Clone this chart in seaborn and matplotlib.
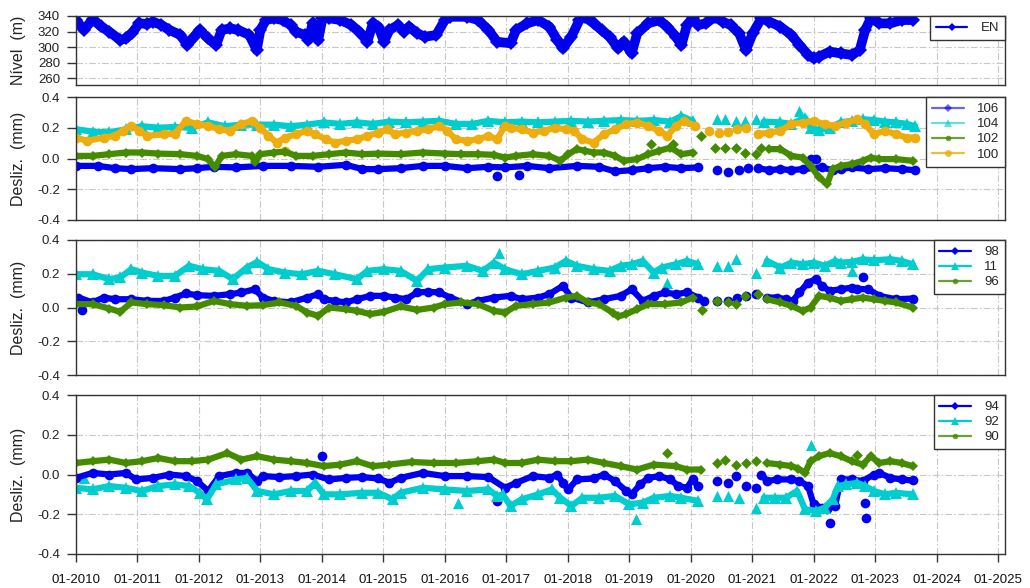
import numpy as np
import matplotlib
matplotlib.use("Agg")
import matplotlib.pyplot as plt
from matplotlib.lines import Line2D
import seaborn as sns

# ---------------- data (decimal years) ----------------
EN_t = [2010.00, 2010.13, 2010.27, 2010.40, 2010.54, 2010.72, 2010.81, 2010.91, 2011.03, 2011.16,
        2011.25, 2011.39, 2011.52, 2011.70, 2011.81, 2011.90, 2012.01, 2012.15, 2012.28, 2012.37,
        2012.51, 2012.64, 2012.82, 2012.94, 2013.00, 2013.09, 2013.22, 2013.36, 2013.49, 2013.58,
        2013.72, 2013.78, 2013.85, 2013.94, 2014.01, 2014.12, 2014.30, 2014.48, 2014.61, 2014.74,
        2014.83, 2014.92, 2015.01, 2015.10, 2015.24, 2015.33, 2015.42, 2015.55, 2015.68, 2015.86,
        2016.00, 2016.09, 2016.36, 2016.54, 2016.71, 2016.85, 2017.07, 2017.16, 2017.34, 2017.52,
        2017.70, 2017.83, 2017.92, 2018.06, 2018.19, 2018.28, 2018.42, 2018.55, 2018.68, 2018.82,
        2018.91, 2019.04, 2019.13, 2019.31, 2019.49, 2019.62, 2019.76, 2019.85, 2019.94, 2020.03,
        2020.12, 2020.25, 2020.39, 2020.52, 2020.65, 2020.79, 2020.90, 2021.01, 2021.15, 2021.28,
        2021.46, 2021.64, 2021.77, 2021.91, 2022.00, 2022.09, 2022.26, 2022.44, 2022.62, 2022.75,
        2022.84, 2022.93, 2023.07, 2023.25, 2023.43, 2023.61]
EN_v = [334.8, 322.0, 335.7, 327.0, 319.8, 309.0, 311.0, 318.0, 330.5, 329.7,
        332.7, 328.4, 322.0, 315.5, 302.6, 311.0, 322.0, 311.0, 302.6, 322.0,
        324.0, 322.0, 315.5, 296.0, 322.0, 334.8, 337.0, 334.8, 328.4, 319.8,
        315.5, 309.0, 330.5, 309.0, 337.0, 337.0, 334.8, 328.4, 319.8, 306.9,
        330.5, 326.2, 306.9, 322.0, 328.4, 319.8, 326.2, 317.6, 313.3, 315.5,
        334.8, 339.0, 339.0, 334.8, 322.0, 306.9, 304.7, 322.0, 330.5, 334.8,
        326.2, 309.0, 298.3, 313.3, 334.8, 339.0, 330.5, 322.0, 313.3, 298.3,
        306.9, 291.8, 317.6, 330.5, 334.8, 326.2, 313.3, 302.6, 328.4, 337.0,
        328.4, 330.5, 339.0, 332.7, 328.4, 317.6, 296.0, 317.6, 337.0, 332.7,
        326.2, 315.5, 302.6, 289.7, 285.4, 287.5, 294.0, 291.8, 289.7, 296.0,
        322.0, 337.0, 330.5, 330.5, 334.8, 334.8]

# Panel 2 --- sensor 106
s106_t = [2010.00, 2010.36, 2010.63, 2010.90, 2011.25, 2011.70, 2011.97, 2012.24, 2012.60, 2013.04,
          2013.49, 2013.94, 2014.39, 2014.66, 2014.92, 2015.28, 2015.64, 2016.00, 2016.36, 2016.71,
          2016.98, 2017.34, 2017.70, 2018.15, 2018.51, 2018.77, 2019.04, 2019.31, 2019.58, 2019.85,
          2020.12, 2021.10, 2021.28, 2021.46, 2021.64, 2021.82, 2022.13, 2022.31, 2022.44, 2022.62,
          2022.89, 2023.16, 2023.43, 2023.65]
s106_v = [-0.048, -0.048, -0.063, -0.069, -0.063, -0.069, -0.063, -0.054, -0.058, -0.048,
          -0.048, -0.054, -0.041, -0.069, -0.069, -0.063, -0.048, -0.048, -0.063, -0.054,
          -0.058, -0.048, -0.063, -0.048, -0.054, -0.084, -0.076, -0.063, -0.054, -0.063,
          -0.058, -0.063, -0.076, -0.069, -0.076, -0.069, -0.058, -0.076, -0.069, -0.058,
          -0.069, -0.063, -0.069, -0.076]
s106_pt_t = [2016.85, 2017.21, 2020.43, 2020.61, 2020.79, 2020.94, 2021.95, 2022.04]
s106_pt_v = [-0.113, -0.106, -0.076, -0.091, -0.076, -0.063, -0.004, -0.004]

# Panel 2 --- sensor 104
s104_t = [2010.00, 2010.27, 2010.54, 2010.81, 2011.07, 2011.34, 2011.61, 2011.88, 2012.15, 2012.42,
          2012.69, 2012.95, 2013.22, 2013.49, 2013.76, 2014.03, 2014.30, 2014.57, 2014.83, 2015.10,
          2015.37, 2015.64, 2015.91, 2016.18, 2016.45, 2016.71, 2016.98, 2017.25, 2017.52, 2017.79,
          2018.06, 2018.33, 2018.59, 2018.86, 2019.13, 2019.40, 2019.67, 2019.85, 2020.03, 2021.19,
          2021.46, 2021.64, 2021.86, 2021.95, 2022.09, 2022.26, 2022.44, 2022.62, 2022.80, 2022.98,
          2023.16, 2023.34, 2023.52, 2023.65]
s104_v = [0.190, 0.175, 0.170, 0.190, 0.210, 0.200, 0.205, 0.200, 0.235, 0.210,
          0.220, 0.220, 0.220, 0.210, 0.220, 0.235, 0.225, 0.235, 0.225, 0.240,
          0.235, 0.240, 0.245, 0.225, 0.225, 0.245, 0.235, 0.240, 0.235, 0.240,
          0.245, 0.240, 0.245, 0.250, 0.245, 0.250, 0.240, 0.275, 0.245, 0.240,
          0.235, 0.225, 0.265, 0.200, 0.185, 0.200, 0.235, 0.245, 0.255, 0.250,
          0.240, 0.235, 0.225, 0.210]
s104_pt_t = [2020.43, 2020.56, 2020.74, 2020.88, 2021.06, 2021.77]
s104_pt_v = [0.255, 0.255, 0.245, 0.245, 0.255, 0.310]

# Panel 2 --- sensor 102
s102_t = [2010.00, 2010.27, 2010.54, 2010.81, 2011.07, 2011.34, 2011.70, 2011.97, 2012.15, 2012.26,
          2012.37, 2012.60, 2012.86, 2012.91, 2013.00, 2013.22, 2013.40, 2013.58, 2013.85, 2014.12,
          2014.39, 2014.66, 2014.92, 2015.28, 2015.64, 2016.00, 2016.27, 2016.54, 2016.80, 2016.98,
          2017.16, 2017.43, 2017.70, 2017.88, 2018.01, 2018.15, 2018.28, 2018.42, 2018.59, 2018.77,
          2018.91, 2019.13, 2019.31, 2019.49, 2019.67, 2019.85, 2020.03, 2021.28, 2021.46, 2021.64,
          2021.82, 2021.95, 2022.09, 2022.22, 2022.31, 2022.44, 2022.62, 2022.80, 2022.93, 2023.07,
          2023.34, 2023.61]
s102_v = [0.017, 0.017, 0.028, 0.039, 0.039, 0.032, 0.028, 0.017, -0.004, -0.058,
          0.017, 0.028, 0.017, -0.026, 0.028, 0.039, 0.045, 0.017, 0.017, 0.028,
          0.039, 0.028, 0.032, 0.028, 0.039, 0.032, 0.028, 0.028, 0.024, 0.006,
          0.017, 0.028, 0.017, -0.015, 0.028, 0.061, 0.050, 0.039, 0.039, 0.017,
          -0.015, -0.004, 0.028, 0.050, 0.071, 0.028, 0.039, 0.061, 0.061, 0.017,
          0.006, -0.048, -0.123, -0.167, -0.069, -0.048, -0.037, -0.015, 0.006, -0.004,
          -0.004, -0.015]
s102_pt_t = [2019.06, 2019.36, 2019.71, 2020.16, 2020.39, 2020.56, 2020.74, 2020.88, 2021.06, 2021.15]
s102_pt_v = [-0.069, 0.093, 0.093, 0.147, 0.071, 0.071, 0.071, 0.039, 0.028, 0.071]

# Panel 2 --- sensor 100
s100_t = [2010.00, 2010.18, 2010.45, 2010.63, 2010.76, 2010.90, 2011.03, 2011.16, 2011.43, 2011.61,
          2011.79, 2011.97, 2012.15, 2012.33, 2012.51, 2012.69, 2012.86, 2013.00, 2013.13, 2013.27,
          2013.40, 2013.58, 2013.76, 2013.89, 2014.07, 2014.21, 2014.39, 2014.57, 2014.74, 2014.92,
          2015.06, 2015.19, 2015.37, 2015.55, 2015.73, 2015.91, 2016.04, 2016.18, 2016.36, 2016.54,
          2016.71, 2016.85, 2016.98, 2017.07, 2017.25, 2017.43, 2017.61, 2017.79, 2017.97, 2018.10,
          2018.24, 2018.42, 2018.59, 2018.77, 2018.95, 2019.13, 2019.31, 2019.49, 2019.62, 2019.76,
          2019.89, 2020.07, 2021.10, 2021.28, 2021.46, 2021.64, 2021.82, 2022.00, 2022.18, 2022.35,
          2022.53, 2022.71, 2022.84, 2022.98, 2023.16, 2023.34, 2023.52, 2023.65]
s100_v = [0.136, 0.115, 0.136, 0.147, 0.180, 0.212, 0.180, 0.147, 0.158, 0.162,
          0.245, 0.223, 0.212, 0.190, 0.180, 0.223, 0.245, 0.200, 0.147, 0.104,
          0.136, 0.158, 0.180, 0.158, 0.125, 0.104, 0.115, 0.125, 0.147, 0.169,
          0.190, 0.158, 0.169, 0.180, 0.190, 0.212, 0.180, 0.125, 0.115, 0.125,
          0.147, 0.125, 0.212, 0.200, 0.190, 0.169, 0.180, 0.200, 0.190, 0.180,
          0.125, 0.104, 0.158, 0.190, 0.223, 0.234, 0.212, 0.180, 0.147, 0.212,
          0.245, 0.212, 0.158, 0.169, 0.180, 0.223, 0.234, 0.245, 0.223, 0.212,
          0.234, 0.255, 0.223, 0.158, 0.180, 0.158, 0.136, 0.136]
s100_pt_t = [2013.40, 2020.30, 2020.46, 2020.61, 2020.76, 2020.90]
s100_pt_v = [0.050, 0.180, 0.169, 0.175, 0.190, 0.200]

# Panel 3 --- sensor 98
s98_t = [2010.04, 2010.27, 2010.45, 2010.63, 2010.90, 2011.16, 2011.43, 2011.61, 2011.79, 2011.97,
         2012.24, 2012.51, 2012.69, 2012.91, 2013.04, 2013.22, 2013.49, 2013.76, 2013.94, 2014.03,
         2014.21, 2014.39, 2014.57, 2014.79, 2015.01, 2015.19, 2015.37, 2015.55, 2015.73, 2015.91,
         2016.09, 2016.36, 2016.54, 2016.80, 2017.07, 2017.25, 2017.52, 2017.70, 2017.92, 2018.06,
         2018.33, 2018.59, 2018.86, 2019.04, 2019.22, 2019.40, 2019.58, 2019.76, 2019.94, 2020.12,
         2020.21, 2021.24, 2021.41, 2021.55, 2021.66, 2021.77, 2021.91, 2022.04, 2022.13, 2022.26,
         2022.44, 2022.62, 2022.71, 2022.89, 2023.07, 2023.34, 2023.61]
s98_v = [0.059, 0.030, 0.059, 0.049, 0.049, 0.039, 0.039, 0.059, 0.083, 0.073,
         0.069, 0.079, 0.089, 0.108, 0.059, 0.039, 0.030, 0.059, 0.079, 0.049,
         0.039, 0.030, 0.049, 0.069, 0.069, 0.059, 0.049, 0.089, 0.093, 0.089,
         0.059, 0.020, 0.039, 0.059, 0.069, 0.049, 0.059, 0.079, 0.128, 0.059,
         0.030, 0.049, 0.069, 0.108, 0.039, 0.069, 0.089, 0.079, 0.089, 0.059,
         0.039, 0.059, 0.059, 0.049, 0.039, 0.089, 0.148, 0.168, 0.128, 0.099,
         0.108, 0.118, 0.110, 0.108, 0.069, 0.049, 0.053]
s98_pt_t = [2010.09, 2020.43, 2020.61, 2020.76, 2020.90, 2021.06, 2022.80]
s98_pt_v = [-0.014, 0.039, 0.039, 0.059, 0.069, 0.079, 0.178]

# Panel 3 --- sensor 11
s11_t = [2010.00, 2010.27, 2010.54, 2010.72, 2010.90, 2011.07, 2011.34, 2011.61, 2011.84, 2012.06,
         2012.33, 2012.55, 2012.78, 2012.95, 2013.13, 2013.40, 2013.67, 2013.94, 2014.21, 2014.57,
         2014.74, 2015.01, 2015.28, 2015.55, 2015.73, 2016.00, 2016.36, 2016.62, 2016.80, 2016.98,
         2017.25, 2017.52, 2017.79, 2017.97, 2018.15, 2018.42, 2018.68, 2018.86, 2019.04, 2019.22,
         2019.40, 2019.53, 2019.76, 2019.94, 2020.12, 2021.24, 2021.46, 2021.64, 2021.82, 2022.00,
         2022.18, 2022.35, 2022.44, 2022.62, 2022.80, 2022.98, 2023.25, 2023.43, 2023.61]
s11_v = [0.197, 0.197, 0.168, 0.178, 0.227, 0.207, 0.187, 0.187, 0.247, 0.227,
         0.217, 0.168, 0.237, 0.270, 0.227, 0.207, 0.197, 0.217, 0.197, 0.168,
         0.217, 0.227, 0.217, 0.158, 0.227, 0.237, 0.247, 0.217, 0.266, 0.227,
         0.197, 0.217, 0.237, 0.276, 0.247, 0.227, 0.217, 0.247, 0.256, 0.276,
         0.207, 0.237, 0.256, 0.276, 0.256, 0.276, 0.237, 0.266, 0.256, 0.266,
         0.247, 0.276, 0.266, 0.270, 0.285, 0.280, 0.286, 0.276, 0.256]
s11_pt_t = [2016.88, 2019.62, 2020.43, 2020.61, 2020.74, 2021.06, 2022.62]
s11_pt_v = [0.325, 0.148, 0.247, 0.247, 0.286, 0.207, 0.217]

# Panel 3 --- sensor 96
s96_t = [2010.00, 2010.27, 2010.54, 2010.72, 2010.90, 2011.16, 2011.43, 2011.70, 2011.97, 2012.24,
         2012.51, 2012.78, 2013.04, 2013.31, 2013.58, 2013.76, 2013.94, 2014.12, 2014.39, 2014.57,
         2014.79, 2015.01, 2015.28, 2015.55, 2015.82, 2016.00, 2016.27, 2016.54, 2016.80, 2016.98,
         2017.16, 2017.43, 2017.70, 2017.97, 2018.15, 2018.33, 2018.51, 2018.73, 2018.82, 2018.95,
         2019.13, 2019.31, 2019.58, 2019.85, 2020.03, 2021.24, 2021.46, 2021.64, 2021.82, 2021.95,
         2022.09, 2022.26, 2022.44, 2022.62, 2022.80, 2022.98, 2023.16, 2023.34, 2023.61]
s96_v = [0.020, 0.020, -0.006, -0.026, 0.030, 0.020, 0.014, 0.000, 0.006, 0.039,
         0.020, 0.010, 0.014, 0.030, 0.010, -0.030, -0.049, 0.000, -0.010, -0.020,
         -0.039, -0.026, 0.006, -0.014, 0.000, 0.020, 0.030, 0.020, -0.020, -0.030,
         0.010, 0.020, 0.030, 0.059, 0.069, 0.030, 0.020, -0.030, -0.053, -0.039,
         -0.010, 0.020, 0.020, 0.030, 0.059, 0.049, 0.030, 0.010, -0.020, 0.000,
         0.069, 0.059, 0.039, 0.049, 0.059, 0.049, 0.039, 0.030, 0.000]
s96_pt_t = [2020.19, 2020.43, 2020.61, 2020.74, 2020.88, 2021.10]
s96_pt_v = [-0.014, 0.039, 0.030, 0.020, 0.069, 0.079]

# Panel 4 --- sensor 94
s94_t = [2010.00, 2010.27, 2010.54, 2010.81, 2010.98, 2011.25, 2011.52, 2011.79, 2011.97, 2012.15,
         2012.33, 2012.60, 2012.78, 2012.95, 2013.04, 2013.31, 2013.58, 2013.85, 2014.12, 2014.39,
         2014.66, 2014.92, 2015.10, 2015.28, 2015.64, 2016.00, 2016.36, 2016.71, 2016.98, 2017.16,
         2017.43, 2017.70, 2017.83, 2017.92, 2018.01, 2018.15, 2018.42, 2018.59, 2018.77, 2018.95,
         2019.04, 2019.18, 2019.31, 2019.49, 2019.67, 2019.80, 2019.94, 2020.03, 2020.12, 2021.15,
         2021.24, 2021.41, 2021.64, 2021.77, 2021.91, 2022.00, 2022.13, 2022.22, 2022.35, 2022.44,
         2022.62, 2022.80, 2022.98, 2023.07, 2023.25, 2023.43, 2023.61]
s94_v = [-0.017, 0.008, 0.000, 0.008, -0.025, -0.017, 0.000, -0.008, -0.033, -0.083,
         -0.008, 0.008, 0.008, -0.033, -0.008, -0.013, -0.008, 0.000, -0.025, -0.017,
         -0.013, -0.020, -0.042, -0.017, 0.008, -0.008, -0.008, -0.013, -0.067, -0.042,
         -0.008, -0.017, 0.000, -0.042, -0.075, -0.025, -0.020, 0.000, -0.033, -0.083,
         -0.100, -0.050, -0.017, -0.008, -0.025, -0.058, -0.067, -0.025, -0.058, 0.000,
         -0.033, -0.025, -0.025, -0.033, -0.058, -0.150, -0.167, -0.175, -0.158, -0.025,
         -0.025, -0.033, 0.000, 0.008, -0.017, -0.025, -0.030]
s94_pt_t = [2014.01, 2016.85, 2020.43, 2020.61, 2020.74, 2020.90, 2021.06, 2022.26, 2022.84, 2022.86]
s94_pt_v = [0.092, -0.133, -0.033, -0.042, -0.008, -0.058, -0.067, -0.242, -0.142, -0.217]

# Panel 4 --- sensor 92
s92_t = [2010.00, 2010.27, 2010.54, 2010.81, 2011.07, 2011.34, 2011.61, 2011.84, 2012.01, 2012.13,
         2012.28, 2012.60, 2012.78, 2012.95, 2013.22, 2013.49, 2013.76, 2013.89, 2014.03, 2014.30,
         2014.66, 2014.92, 2015.15, 2015.28, 2015.64, 2016.00, 2016.36, 2016.71, 2016.85, 2016.94,
         2017.07, 2017.25, 2017.52, 2017.74, 2017.88, 2018.06, 2018.24, 2018.51, 2018.77, 2019.00,
         2019.22, 2019.40, 2019.67, 2019.85, 2020.12, 2021.19, 2021.37, 2021.55, 2021.73, 2021.86,
         2022.04, 2022.18, 2022.31, 2022.40, 2022.53, 2022.71, 2022.84, 2022.98, 2023.16, 2023.34,
         2023.61]
s92_v = [-0.067, -0.075, -0.058, -0.067, -0.083, -0.058, -0.050, -0.058, -0.092, -0.125,
         -0.050, -0.025, -0.017, -0.083, -0.100, -0.083, -0.083, -0.042, -0.100, -0.100,
         -0.092, -0.092, -0.125, -0.092, -0.067, -0.075, -0.083, -0.075, -0.108, -0.100,
         -0.158, -0.125, -0.100, -0.075, -0.117, -0.158, -0.117, -0.117, -0.108, -0.150,
         -0.142, -0.117, -0.108, -0.117, -0.133, -0.117, -0.117, -0.117, -0.083, -0.175,
         -0.183, -0.167, -0.125, -0.058, -0.050, -0.042, -0.058, -0.083, -0.100, -0.092,
         -0.100]
s92_pt_t = [2010.13, 2016.22, 2019.11, 2020.43, 2020.61, 2020.79, 2021.06, 2021.95]
s92_pt_v = [-0.017, -0.142, -0.225, -0.108, -0.108, -0.117, -0.167, 0.150]

# Panel 4 --- sensor 90
s90_t = [2010.00, 2010.27, 2010.54, 2010.81, 2011.07, 2011.34, 2011.61, 2011.88, 2012.15, 2012.46,
         2012.69, 2012.95, 2013.22, 2013.49, 2013.76, 2014.03, 2014.30, 2014.57, 2014.83, 2015.10,
         2015.46, 2015.82, 2016.18, 2016.54, 2016.80, 2016.98, 2017.25, 2017.52, 2017.79, 2018.06,
         2018.33, 2018.59, 2018.86, 2019.13, 2019.40, 2019.76, 2019.94, 2020.16, 2021.24, 2021.46,
         2021.64, 2021.75, 2021.86, 2021.95, 2022.09, 2022.26, 2022.44, 2022.62, 2022.80, 2022.93,
         2023.07, 2023.25, 2023.43, 2023.61]
s90_v = [0.058, 0.067, 0.075, 0.058, 0.067, 0.083, 0.067, 0.067, 0.075, 0.108,
         0.075, 0.092, 0.075, 0.067, 0.058, 0.042, 0.050, 0.067, 0.042, 0.050,
         0.063, 0.058, 0.058, 0.067, 0.075, 0.058, 0.058, 0.075, 0.067, 0.067,
         0.075, 0.058, 0.042, 0.025, 0.050, 0.042, 0.025, 0.025, 0.058, 0.050,
         0.042, 0.030, 0.008, 0.067, 0.092, 0.108, 0.092, 0.067, 0.050, 0.092,
         0.058, 0.067, 0.058, 0.042]
s90_pt_t = [2019.62, 2020.43, 2020.56, 2020.74, 2020.90, 2021.06, 2022.71]
s90_pt_v = [0.108, 0.058, 0.075, 0.050, 0.058, 0.067, 0.100]

years = list(range(2010, 2026))
year_labels = [f"01-{y}" for y in years]
lev_ticks = [260, 280, 300, 320, 340]
dz_ticks = [-0.4, -0.2, 0.0, 0.2, 0.4]
dz_labels = ["-0.4", "-0.2", "0.0", "0.2", "0.4"]

BLUE = "#0000EE"
CYAN = "#00CDCD"
GREEN = "#458B00"
ORANGE = "#EEAD0E"

# ---------------- drawing ----------------
sns.set_theme(style="white")
plt.rcParams["font.family"] = ["Liberation Sans", "DejaVu Sans"]

W, H = 1030, 588
fig = plt.figure(figsize=(W / 100, H / 100), dpi=100)
L, R = 76, 1005
rows = [(16, 85), (97, 220), (240, 375), (395, 554)]
axes = [fig.add_axes([L / W, 1 - b / H, (R - L) / W, (b - t) / H]) for t, b in rows]

XMIN, XMAX = 2010.0, 2025.0 + 7 / 61.5
GRID = dict(color="#c8c8c8", lw=0.8, ls=(0, (6, 2, 1.5, 2)))


def draw(ax, t, v, pt_t, pt_v, color, marker, ms, lw=4.5):
    t = np.asarray(t, float)
    v = np.asarray(v, float)
    cuts = np.where(np.diff(t) > 0.7)[0] + 1
    for st, sv in zip(np.split(t, cuts), np.split(v, cuts)):
        sns.lineplot(x=st, y=sv, ax=ax, color=color, linewidth=lw, marker=marker,
                     markersize=ms, markeredgewidth=0, markeredgecolor=color,
                     estimator=None, sort=False, legend=False)
    if len(pt_t):
        sns.scatterplot(x=pt_t, y=pt_v, ax=ax, color=color, marker=marker,
                        s=ms ** 2, linewidth=0, legend=False)


def style(ax, ylim, yticks, ylabels, ylabel, bottom=False):
    ax.set_xlim(XMIN, XMAX)
    ax.set_ylim(*ylim)
    ax.set_xticks(years)
    ax.set_yticks(yticks)
    ax.set_yticklabels(ylabels)
    ax.grid(True, **GRID)
    ax.set_axisbelow(True)
    for sp in ax.spines.values():
        sp.set_visible(True)
        sp.set_color("#333333")
        sp.set_linewidth(1.0)
    ax.tick_params(axis="y", which="both", left=True, length=6.5, width=1,
                   color="#333333", pad=5, labelsize=9.5, labelcolor="#222222")
    if bottom:
        ax.set_xticklabels(year_labels)
        ax.tick_params(axis="x", bottom=True, length=5.5, width=1, color="#333333",
                       pad=9, labelsize=9.5, labelcolor="#111111")
    else:
        ax.tick_params(axis="x", bottom=False, labelbottom=False)
    ax.set_xlabel("")
    ax.set_ylabel(ylabel, fontsize=11.5, color="#222222")
    ax.yaxis.set_label_coords(-0.054, 0.5)


def legend(ax, entries):
    handles = [Line2D([], [], color=c, lw=1.6, marker=m, markersize=ms, alpha=a,
                      markeredgewidth=0) for c, m, ms, a in [(e[1], e[2], e[3], e[4]) for e in entries]]
    lg = ax.legend(handles, [e[0] for e in entries], loc="upper right", bbox_to_anchor=(1, 1),
                   borderaxespad=0, fontsize=9.5, frameon=True, fancybox=False,
                   edgecolor="#333333", framealpha=1, handlelength=2.4,
                   handletextpad=1.0, labelspacing=0.22, borderpad=0.45)
    lg.get_frame().set_linewidth(1.0)
    lg.set_zorder(10)


ax1, ax2, ax3, ax4 = axes
draw(ax1, EN_t, EN_v, [], [], BLUE, "D", 7.5, lw=7.0)
style(ax1, (251, 340), lev_ticks, [str(v) for v in lev_ticks], "Nível  (m)")
legend(ax1, [("EN", BLUE, "D", 4.5, 1.0)])

draw(ax2, s106_t, s106_v, s106_pt_t, s106_pt_v, BLUE, "o", 7.0)
draw(ax2, s104_t, s104_v, s104_pt_t, s104_pt_v, CYAN, "^", 8.0)
draw(ax2, s102_t, s102_v, s102_pt_t, s102_pt_v, GREEN, "D", 5.5)
draw(ax2, s100_t, s100_v, s100_pt_t, s100_pt_v, ORANGE, "o", 7.0)
style(ax2, (-0.4, 0.4), dz_ticks, dz_labels, "Desliz.  (mm)")
legend(ax2, [("106", BLUE, "D", 4.5, 0.6), ("104", CYAN, "^", 5.5, 0.6),
             ("102", GREEN, "o", 4, 0.8), ("100", ORANGE, "o", 5, 0.8)])

draw(ax3, s98_t, s98_v, s98_pt_t, s98_pt_v, BLUE, "o", 7.0)
draw(ax3, s11_t, s11_v, s11_pt_t, s11_pt_v, CYAN, "^", 8.0)
draw(ax3, s96_t, s96_v, s96_pt_t, s96_pt_v, GREEN, "D", 5.5)
style(ax3, (-0.4, 0.4), dz_ticks, dz_labels, "Desliz.  (mm)")
legend(ax3, [("98", BLUE, "D", 4.5, 1.0), ("11", CYAN, "^", 5.5, 1.0), ("96", GREEN, "o", 4, 0.8)])

draw(ax4, s94_t, s94_v, s94_pt_t, s94_pt_v, BLUE, "o", 7.0)
draw(ax4, s92_t, s92_v, s92_pt_t, s92_pt_v, CYAN, "^", 8.0)
draw(ax4, s90_t, s90_v, s90_pt_t, s90_pt_v, GREEN, "D", 5.5)
style(ax4, (-0.4, 0.4), dz_ticks, dz_labels, "Desliz.  (mm)", bottom=True)
legend(ax4, [("94", BLUE, "D", 4.5, 1.0), ("92", CYAN, "^", 5.5, 1.0), ("90", GREEN, "o", 4, 0.8)])

fig.savefig("out.png", dpi=100, facecolor="white")
